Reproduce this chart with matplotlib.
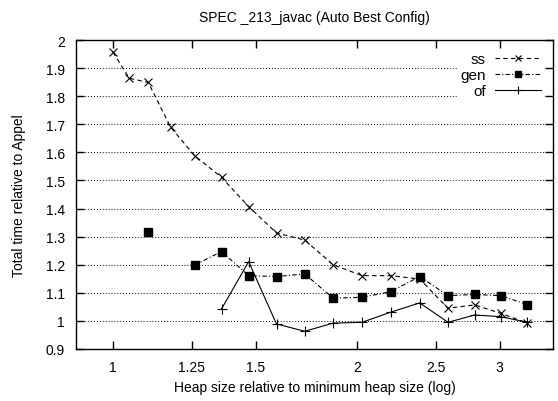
import numpy as np
import matplotlib
matplotlib.use('Agg')
import matplotlib.pyplot as plt
from matplotlib.ticker import FixedLocator, NullLocator

# heap size relative to minimum heap size
heap = [1.0, 1.047, 1.105, 1.178, 1.261, 1.361, 1.470, 1.591, 1.724, 1.868,
        2.029, 2.200, 2.390, 2.590, 2.794, 3.008, 3.246]

ss = [1.956, 1.864, 1.849, 1.689, 1.588, 1.511, 1.407, 1.313, 1.288, 1.200,
      1.161, 1.161, 1.149, 1.045, 1.057, 1.027, 0.992]
gen = [np.nan, np.nan, 1.318, np.nan, 1.199, 1.247, 1.161, 1.158, 1.167, 1.081,
       1.084, 1.104, 1.158, 1.090, 1.094, 1.090, 1.058]
of = [np.nan, np.nan, np.nan, np.nan, np.nan, 1.043, 1.211, 0.989, 0.963, 0.992,
      0.995, 1.031, 1.064, 0.995, 1.021, 1.015, 0.995]

xticks = [1, 1.25, 1.5, 2, 2.5, 3]
xticklabels = ['1', '1.25', '1.5', '2', '2.5', '3']
yticks = [0.9, 1.0, 1.1, 1.2, 1.3, 1.4, 1.5, 1.6, 1.7, 1.8, 1.9, 2.0]
yticklabels = ['0.9', '1', '1.1', '1.2', '1.3', '1.4', '1.5', '1.6', '1.7', '1.8', '1.9', '2']

plt.rcParams['font.family'] = ['Liberation Sans', 'DejaVu Sans']

fig = plt.figure(figsize=(5.58, 4.02), dpi=100)
ax = fig.add_axes([0.1362, 0.1294, 0.991 - 0.1362, 0.898 - 0.1294])

ax.plot(heap, ss, color='black', lw=0.8, ls=(0, (4, 3)), marker='x',
        ms=6, mew=0.8, label='ss')
ax.plot(heap, gen, color='black', lw=0.8, ls=(0, (4, 2, 1, 2)), marker='s',
        ms=5.2, label='gen')
ax.plot(heap, of, color='black', lw=0.8, ls='-', marker='+',
        ms=6.5, mew=0.8, label='of')

ax.set_xscale('log')
ax.set_xlim(0.9, 3.49)
ax.set_ylim(0.9, 2.0)
ax.xaxis.set_major_locator(FixedLocator(xticks))
ax.xaxis.set_minor_locator(NullLocator())
ax.set_xticklabels(xticklabels)
ax.set_yticks(yticks)
ax.set_yticklabels(yticklabels)
ax.tick_params(direction='in', top=True, right=True, length=6, width=1,
               labelsize=10, pad=8)
ax.yaxis.grid(True, ls=(0, (1, 2)), color='black', lw=0.7)
for s in ax.spines.values():
    s.set_linewidth(1)

ax.set_title('SPEC _213_javac (Auto Best Config)', fontsize=10, pad=14)
ax.set_xlabel('Heap size relative to minimum heap size (log)', fontsize=10)
ax.set_ylabel('Total time relative to Appel', fontsize=10, labelpad=14)

leg = ax.legend(loc='upper right', markerfirst=False, frameon=True,
                fontsize=11, handlelength=3.0, labelspacing=0.12,
                borderaxespad=0.6, handletextpad=0.6, borderpad=0.2,
                markerscale=0.8)
leg.get_frame().set_edgecolor('none')
leg.get_frame().set_facecolor('white')
leg.get_frame().set_alpha(1)
for t in leg.get_texts():
    t.set_ha('right')

fig.savefig('out.png', dpi=100)
